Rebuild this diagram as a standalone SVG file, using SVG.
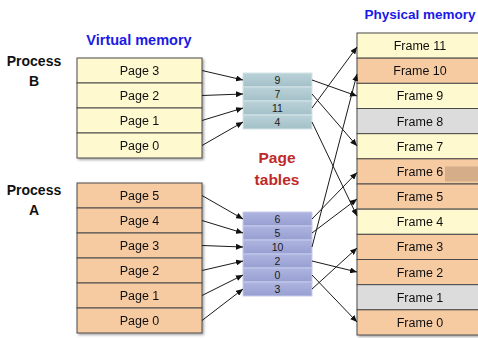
<svg xmlns="http://www.w3.org/2000/svg" width="478" height="338" viewBox="0 0 478 338">
<defs>
<filter id="sh" x="-10%" y="-10%" width="130%" height="130%">
<feDropShadow dx="1.5" dy="1.5" stdDeviation="1" flood-color="#000" flood-opacity="0.35"/>
</filter>
<linearGradient id="gB" x1="0" y1="0" x2="0" y2="1">
<stop offset="0" stop-color="#BAD2D8"/><stop offset="1" stop-color="#A3C0C8"/>
</linearGradient>
<linearGradient id="gA" x1="0" y1="0" x2="0" y2="1">
<stop offset="0" stop-color="#AEB4DF"/><stop offset="1" stop-color="#979FD2"/>
</linearGradient>
<marker id="ah" markerWidth="7" markerHeight="6" refX="7" refY="3" orient="auto" markerUnits="userSpaceOnUse">
<path d="M0,0 L7,3 L0,6 z" fill="#111"/>
</marker>
</defs>
<style>
.t{font-family:"Liberation Sans",Arial,sans-serif;font-size:12.5px;fill:#111;text-anchor:middle}
.n{font-family:"Liberation Sans",Arial,sans-serif;font-size:10.5px;fill:#1a1a1a;text-anchor:middle}
.h{font-family:"Liberation Sans",Arial,sans-serif;font-weight:bold;font-size:14px;text-anchor:middle}
.y{fill:#FEF9CE;stroke:#4a4a4a;stroke-width:1}
.o{fill:#F7CBA2;stroke:#4a4a4a;stroke-width:1}
.g{fill:#DCDCDC;stroke:#4a4a4a;stroke-width:1}
.tb{fill:url(#gB);stroke:#D4E4E8;stroke-width:1}
.ta{fill:url(#gA);stroke:#C6CBEA;stroke-width:1}
.c line{stroke:#1a1a1a;stroke-width:1;marker-end:url(#ah)}
</style>
<rect width="478" height="338" fill="#fff"/>

<g id="labels">
<text class="h" x="139" y="45" style="fill:#1A1AE6;font-size:14.5px">Virtual memory</text>
<text class="h" x="420" y="19" style="fill:#1A1AE6;font-size:13.5px">Physical memory</text>
<text class="h" x="34" y="66" style="fill:#111">Process</text>
<text class="h" x="34" y="86" style="fill:#111">B</text>
<text class="h" x="34" y="195" style="fill:#111">Process</text>
<text class="h" x="34" y="215" style="fill:#111">A</text>
<text class="h" x="277" y="163" style="fill:#BE2A2A;font-size:15.5px">Page</text>
<text class="h" x="277" y="185" style="fill:#BE2A2A;font-size:15.5px">tables</text>
</g>

<g id="process-b-virtual" filter="url(#sh)">
<g id="b-page3"><rect class="y" x="77" y="58" width="125" height="25"/><text class="t" x="139.5" y="75">Page 3</text></g>
<g id="b-page2"><rect class="y" x="77" y="83" width="125" height="25"/><text class="t" x="139.5" y="100">Page 2</text></g>
<g id="b-page1"><rect class="y" x="77" y="108" width="125" height="25"/><text class="t" x="139.5" y="125">Page 1</text></g>
<g id="b-page0"><rect class="y" x="77" y="133" width="125" height="25"/><text class="t" x="139.5" y="150">Page 0</text></g>
</g>

<g id="process-a-virtual" filter="url(#sh)">
<g id="a-page5"><rect class="o" x="77" y="183" width="125" height="25"/><text class="t" x="139.5" y="200">Page 5</text></g>
<g id="a-page4"><rect class="o" x="77" y="208" width="125" height="25"/><text class="t" x="139.5" y="225">Page 4</text></g>
<g id="a-page3"><rect class="o" x="77" y="233" width="125" height="25"/><text class="t" x="139.5" y="250">Page 3</text></g>
<g id="a-page2"><rect class="o" x="77" y="258" width="125" height="25"/><text class="t" x="139.5" y="275">Page 2</text></g>
<g id="a-page1"><rect class="o" x="77" y="283" width="125" height="25"/><text class="t" x="139.5" y="300">Page 1</text></g>
<g id="a-page0"><rect class="o" x="77" y="308" width="125" height="25"/><text class="t" x="139.5" y="325">Page 0</text></g>
</g>

<g id="page-table-b">
<g id="pt-b-0"><rect class="tb" x="243" y="73" width="69" height="14"/><text class="n" x="277.5" y="83.8">9</text></g>
<g id="pt-b-1"><rect class="tb" x="243" y="87" width="69" height="14"/><text class="n" x="277.5" y="97.8">7</text></g>
<g id="pt-b-2"><rect class="tb" x="243" y="101" width="69" height="14"/><text class="n" x="277.5" y="111.8">11</text></g>
<g id="pt-b-3"><rect class="tb" x="243" y="115" width="69" height="14"/><text class="n" x="277.5" y="125.8">4</text></g>
</g>

<g id="page-table-a">
<g id="pt-a-0"><rect class="ta" x="243" y="212" width="69" height="14"/><text class="n" x="277.5" y="222.8">6</text></g>
<g id="pt-a-1"><rect class="ta" x="243" y="226" width="69" height="14"/><text class="n" x="277.5" y="236.8">5</text></g>
<g id="pt-a-2"><rect class="ta" x="243" y="240" width="69" height="14"/><text class="n" x="277.5" y="250.8">10</text></g>
<g id="pt-a-3"><rect class="ta" x="243" y="254" width="69" height="14"/><text class="n" x="277.5" y="264.8">2</text></g>
<g id="pt-a-4"><rect class="ta" x="243" y="268" width="69" height="14"/><text class="n" x="277.5" y="278.8">0</text></g>
<g id="pt-a-5"><rect class="ta" x="243" y="282" width="69" height="14"/><text class="n" x="277.5" y="292.8">3</text></g>
</g>

<g id="physical-memory" filter="url(#sh)">
<g id="frame11"><rect class="y" x="357" y="33" width="130" height="25.17"/><text class="t" x="420" y="50.1">Frame 11</text></g>
<g id="frame10"><rect class="o" x="357" y="58.17" width="130" height="25.17"/><text class="t" x="420" y="75.2">Frame 10</text></g>
<g id="frame9"><rect class="y" x="357" y="83.33" width="130" height="25.17"/><text class="t" x="420" y="100.4">Frame 9</text></g>
<g id="frame8"><rect class="g" x="357" y="108.5" width="130" height="25.17"/><text class="t" x="420" y="125.6">Frame 8</text></g>
<g id="frame7"><rect class="y" x="357" y="133.67" width="130" height="25.17"/><text class="t" x="420" y="150.7">Frame 7</text></g>
<g id="frame6"><rect class="o" x="357" y="158.83" width="130" height="25.17"/><rect x="445" y="166.5" width="40" height="15" fill="#D6AD89"/><text class="t" x="420" y="175.9">Frame 6</text></g>
<g id="frame5"><rect class="o" x="357" y="184" width="130" height="25.17"/><text class="t" x="420" y="201.1">Frame 5</text></g>
<g id="frame4"><rect class="y" x="357" y="209.17" width="130" height="25.17"/><text class="t" x="420" y="226.2">Frame 4</text></g>
<g id="frame3"><rect class="o" x="357" y="234.33" width="130" height="25.17"/><text class="t" x="420" y="251.4">Frame 3</text></g>
<g id="frame2"><rect class="o" x="357" y="259.5" width="130" height="25.17"/><text class="t" x="420" y="276.6">Frame 2</text></g>
<g id="frame1"><rect class="g" x="357" y="284.67" width="130" height="25.17"/><text class="t" x="420" y="301.7">Frame 1</text></g>
<g id="frame0"><rect class="o" x="357" y="309.83" width="130" height="25.17"/><text class="t" x="420" y="326.9">Frame 0</text></g>
</g>

<g id="connectors" class="c">
<line x1="202" y1="70.5" x2="243" y2="80"/>
<line x1="202" y1="95.5" x2="243" y2="94"/>
<line x1="202" y1="120.5" x2="243" y2="108"/>
<line x1="202" y1="145.5" x2="243" y2="122"/>
<line x1="202" y1="195.5" x2="243" y2="219"/>
<line x1="202" y1="220.5" x2="243" y2="233"/>
<line x1="202" y1="245.5" x2="243" y2="247"/>
<line x1="202" y1="270.5" x2="243" y2="261"/>
<line x1="202" y1="295.5" x2="243" y2="275"/>
<line x1="202" y1="320.5" x2="243" y2="289"/>
<line x1="312" y1="80" x2="357" y2="96"/>
<line x1="312" y1="94" x2="357" y2="146"/>
<line x1="312" y1="108" x2="357" y2="47"/>
<line x1="312" y1="122" x2="357" y2="216"/>
<line x1="312" y1="219" x2="357" y2="172.5"/>
<line x1="312" y1="233" x2="357" y2="199"/>
<line x1="312" y1="247" x2="357" y2="74"/>
<line x1="312" y1="261" x2="357" y2="272"/>
<line x1="312" y1="275" x2="357" y2="322"/>
<line x1="312" y1="289" x2="357" y2="248"/>
</g>
</svg>
